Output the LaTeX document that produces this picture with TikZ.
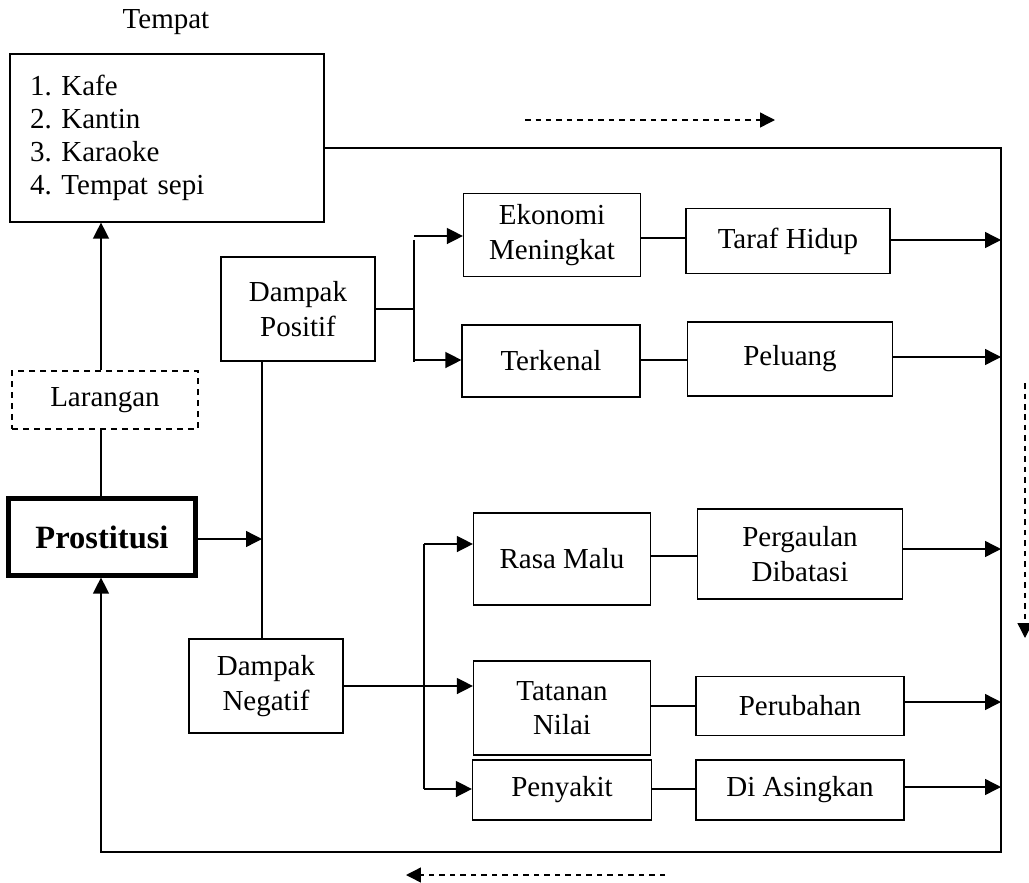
\documentclass[tikz,border=0pt]{standalone}
\usepackage{fontspec}
\setmainfont{Liberation Serif}
\usetikzlibrary{positioning}
\usetikzlibrary{arrows.meta}

\begin{document}
\begin{tikzpicture}[x=0.02cm, y=-0.02cm,
    font=\fontsize{16.5}{19.5}\selectfont,
    box/.style={
        draw, line width=0.7pt,
        align=center, inner sep=2pt
    },
    main box/.style={box, line width=2.4pt, font=\fontsize{18.5}{22}\selectfont\bfseries},
    dashed box/.style={box, dash pattern=on 1.2mm off 1mm},
    edge/.style={line width=0.8pt},
    arrow edge/.style={edge, -{Triangle[length=3.2mm,width=3.2mm]}},
    flow arrow/.style={line width=0.8pt, dash pattern=on 1.1mm off 1mm,
        -{Triangle[length=3mm,width=3mm]}}
]
\useasboundingbox (0,0) rectangle (1029,883);

% kiri
\node (tempatlbl) at (166,22) {Tempat};
\node[box, align=left, text width=5.48cm, inner xsep=0.4cm, minimum height=3.36cm,
      font=\fontsize{16.5}{18.8}\selectfont] (tempat) at (167,138)
    {1.\ Kafe\\ 2.\ Kantin\\ 3.\ Karaoke\\ 4.\ Tempat sepi};
\node[dashed box, minimum width=3.72cm, minimum height=1.16cm] (larangan) at (105,400) {Larangan};
\node[main box, minimum width=3.74cm, minimum height=1.54cm] (prostitusi) at (102,537) {Prostitusi};

% dampak
\node[box, minimum width=3.08cm, minimum height=2.08cm] (positif) at (298,309) {Dampak\\ Positif};
\node[box, minimum width=3.08cm, minimum height=1.88cm] (negatif) at (266,686) {Dampak\\ Negatif};

\node[box, minimum width=3.54cm, minimum height=1.66cm] (ekonomi) at (552,235) {Ekonomi\\ Meningkat};
\node[box, minimum width=4.08cm, minimum height=1.30cm] (taraf) at (788,241) {Taraf Hidup};
\node[box, minimum width=3.56cm, minimum height=1.44cm] (terkenal) at (551,361) {Terkenal};
\node[box, minimum width=4.10cm, minimum height=1.48cm] (peluang) at (790,359) {Peluang};

\node[box, minimum width=3.54cm, minimum height=1.84cm] (rasa) at (562,559) {Rasa Malu};
\node[box, minimum width=4.10cm, minimum height=1.80cm] (pergaulan) at (800,554) {Pergaulan\\ Dibatasi};
\node[box, minimum width=3.54cm, minimum height=1.88cm] (tatanan) at (562,708) {Tatanan\\ Nilai};
\node[box, minimum width=4.16cm, minimum height=1.18cm] (perubahan) at (800,706) {Perubahan};
\node[box, minimum width=3.58cm, minimum height=1.20cm] (penyakit) at (562,790) {Penyakit};
\node[box, minimum width=4.16cm, minimum height=1.20cm] (asingkan) at (800,790) {Di Asingkan};

% titik bantu
\coordinate (kananatas) at (1001,148);
\coordinate (kananbawah) at (1001,852);
\coordinate (kiribawah) at (101,852);
\coordinate (tengah) at (262,539);
\coordinate (cabangP) at (414,240);
\coordinate (cabangN) at (424,544);

% garis
\draw[arrow edge] (larangan.north -| 101,0) -- (tempat.south -| 101,0);
\draw[edge] (prostitusi.north -| 101,0) -- (larangan.south -| 101,0);
\draw[arrow edge] (tempat.east |- kananatas) -- (kananatas) -- (kananbawah) -- (kiribawah)
    -- (prostitusi.south -| kiribawah);
\draw[arrow edge] (prostitusi.east |- tengah) -- (tengah);
\draw[edge] (positif.south -| tengah) -- (negatif.north -| tengah);

\draw[edge] (positif.east) -- (positif.east -| cabangP);
\draw[edge] (cabangP) -- (cabangP |- 0,362);
\draw[arrow edge] (cabangP |- 0,236) -- (ekonomi.west |- 0,236);
\draw[arrow edge] (cabangP |- 0,360) -- (terkenal.west |- 0,360);
\draw[edge] (ekonomi.east |- 0,238) -- (taraf.west |- 0,238);
\draw[edge] (terkenal.east |- 0,360) -- (peluang.west |- 0,360);
\draw[arrow edge] (taraf.east |- 0,240) -- (kananatas |- 0,240);
\draw[arrow edge] (peluang.east |- 0,357) -- (kananatas |- 0,357);

\draw[edge] (negatif.east) -- (negatif.east -| cabangN);
\draw[edge] (cabangN) -- (cabangN |- 0,789);
\draw[arrow edge] (cabangN) -- (rasa.west |- cabangN);
\draw[arrow edge] (cabangN |- negatif.east) -- (tatanan.west |- negatif.east);
\draw[arrow edge] (cabangN |- 0,789) -- (penyakit.west |- 0,789);
\draw[edge] (rasa.east |- 0,556) -- (pergaulan.west |- 0,556);
\draw[edge] (tatanan.east |- 0,706) -- (perubahan.west |- 0,706);
\draw[edge] (penyakit.east |- 0,789) -- (asingkan.west |- 0,789);
\draw[arrow edge] (pergaulan.east |- 0,549) -- (kananatas |- 0,549);
\draw[arrow edge] (perubahan.east |- 0,702) -- (kananatas |- 0,702);
\draw[arrow edge] (asingkan.east |- 0,787) -- (kananatas |- 0,787);

% arah putaran
\coordinate (atas1) at (525,120);
\coordinate (atas2) at (775,120);
\coordinate (sisi1) at (1025,383);
\coordinate (sisi2) at (1025,638);
\coordinate (bawah1) at (665,875);
\coordinate (bawah2) at (406,875);
\draw[flow arrow] (atas1) -- (atas2);
\draw[flow arrow] (sisi1) -- (sisi2);
\draw[flow arrow] (bawah1) -- (bawah2);
\end{tikzpicture}
\end{document}
